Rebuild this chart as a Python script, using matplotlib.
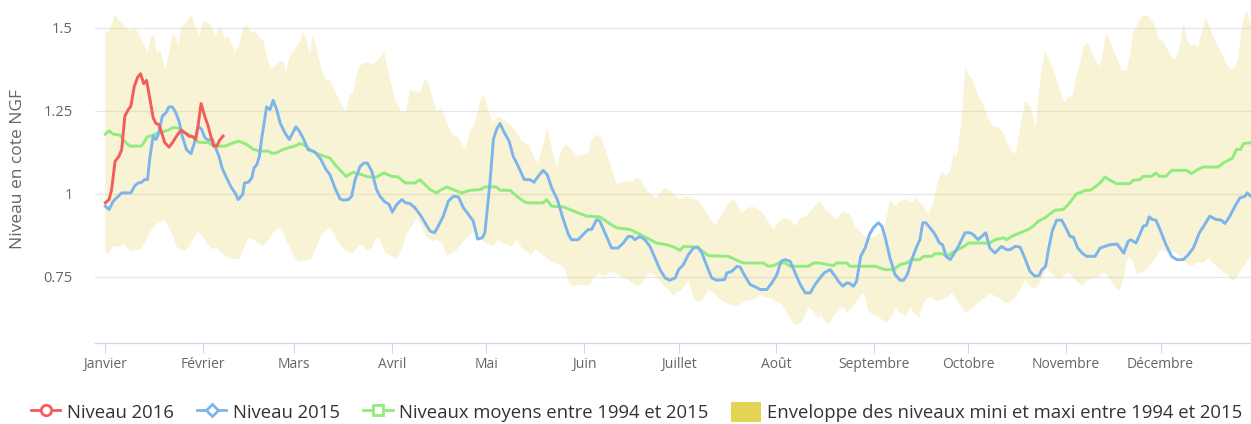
import numpy as np
import matplotlib
matplotlib.use("Agg")
import matplotlib.pyplot as plt
from matplotlib.lines import Line2D
from matplotlib.patches import Patch

plt.rcParams['font.family'] = ['Open Sans', 'DejaVu Sans']

# ---------------- data (day of year 2016, level in m NGF) ----------------
months = ["Janvier", "Février", "Mars", "Avril", "Mai", "Juin", "Juillet",
          "Août", "Septembre", "Octobre", "Novembre", "Décembre"]
yticks = [0.75, 1.0, 1.25, 1.5]
ytick_labels = ["0.75", "1", "1.25", "1.5"]

days_2016 = [0, 1.2, 2, 3.1, 4.3, 5.2, 6.2, 7.3, 8.1, 9.2, 10.3, 11.2, 12.2, 13.1, 14.2, 15.2,
             16.1, 17, 17.9, 18.9, 20.2, 21.3, 22.6, 24, 25.3, 26.6, 27.9, 28.7, 29.5, 30.4,
             31.4, 32.5, 33.5, 34.4, 35.4, 36.3, 37.4]
niveau_2016 = [0.973, 0.983, 1.013, 1.098, 1.113, 1.133, 1.234, 1.254, 1.264, 1.324, 1.352,
               1.362, 1.332, 1.342, 1.284, 1.229, 1.212, 1.209, 1.184, 1.154, 1.141, 1.154,
               1.174, 1.192, 1.184, 1.174, 1.172, 1.164, 1.209, 1.272, 1.239, 1.209, 1.174,
               1.144, 1.144, 1.162, 1.174]

days_2015 = [0, 1.2, 2.5, 4.1, 5.2, 8.1, 9.4, 10.5, 11.5, 12.4, 13.4, 14.2, 15.2, 16.1, 17, 18.1,
             19.2, 20.2, 21.3, 22.3, 23.4, 24.4, 25.8, 27.2, 28.3, 29.5, 30.6, 31.6, 32.7, 34, 35,
             36.1, 37.1, 38.5, 40.1, 41.2, 42.2,
             43.6, 44.2, 45.4, 46.5, 47.2, 48.1, 48.9, 49.6, 50.4, 51.2, 52.3, 53.3, 54.4, 55.5,
             57.0, 58.4, 59.5, 60.5, 61.6, 62.9, 64.4, 66.3, 68.2, 70.1, 71.3, 72.9, 74.5, 75.6,
             77.2, 78.2, 79.3, 80.9, 82.1, 83.2, 84.6, 86.1, 87.2, 88.5,
             90.1, 91.1, 92.5, 94.1, 95.4, 96.7, 98.3, 99.9, 101.5, 103.1, 104.5, 105.7, 107.3,
             108.9, 110.5, 112.1, 113.7, 115.3, 116.8, 118.2, 119.7, 120.5, 122.1, 123.2, 124.2,
             125.3, 126.7, 128.2, 129.5, 131.1, 133.0, 134.8,
             136.1, 137.4, 139.0, 140.3, 141.7, 143.5, 145.4, 147.0, 148.0, 150.1, 151.7, 153.3,
             154.4, 156.0, 157.0, 158.6, 160.7, 162.8, 164.4, 166.0, 167.1, 168.1, 169.7, 171.3,
             172.9, 174.5, 176.1, 177.7, 179.2, 180.9,
             182.0, 183.5, 185.1, 186.7, 188.1, 189.4, 191.0, 192.5, 194.1, 196.6, 197.3, 198.9,
             200.5, 201.5, 203.1, 204.7, 206.3, 207.9, 210.0, 211.6, 213.2, 214.5, 215.8, 217.4,
             219.0, 220.6, 222.2, 223.8, 225.3, 226.9,
             228.2, 230.1, 231.7, 232.7, 234.1, 235.4, 236.4, 237.5, 238.5, 239.8, 241.2, 242.6,
             243.8, 245.4, 246.5, 247.5, 249.1, 250.7, 252.3, 253.4, 254.6, 256.0, 257.6, 258.6,
             259.5, 260.5, 261.8, 263.4, 264.8, 265.8, 266.9, 268.2, 269.2, 270.8, 272.9,
             274.5, 275.5, 277.1, 278.2, 279.5, 280.8, 282.4, 284.5, 286.1, 287.2, 288.8, 290.4,
             291.9, 293.5, 295.1, 296.4, 297.2, 298.5, 299.4, 300.6, 302.0, 303.6, 305.2, 306.2,
             307.3, 308.7, 310.1, 311.5, 314.2, 315.8, 317.3, 318.9,
             321.2, 323.3, 324.7, 325.5, 327.2, 328.4, 329.5, 330.5, 331.4, 332.4, 333.5, 334.8,
             336.7, 338.5, 340.1, 342.2, 343.8, 345.4, 347.3, 348.7, 350.6, 352.6, 354.3, 355.4,
             357.0, 358.6, 360.2, 361.8, 362.5, 363.6]
niveau_2015 = [0.963, 0.953, 0.978, 0.993, 1.003, 1.003, 1.025, 1.033, 1.035, 1.043, 1.043, 1.113,
               1.174, 1.164, 1.184, 1.234, 1.244, 1.262, 1.262, 1.246, 1.219, 1.174, 1.133, 1.121,
               1.154, 1.204, 1.194, 1.169, 1.162, 1.164, 1.139, 1.113, 1.078, 1.048, 1.018, 1.003,
               0.983,
               0.998, 1.033, 1.035, 1.048, 1.078, 1.088, 1.113, 1.164, 1.214, 1.262, 1.254, 1.282,
               1.254, 1.214, 1.184, 1.164, 1.184, 1.202, 1.189, 1.166, 1.133, 1.128, 1.108, 1.073,
               1.058, 1.018, 0.985, 0.981, 0.983, 0.993, 1.043, 1.083, 1.093, 1.093, 1.068, 1.013,
               0.993, 0.978,
               0.968, 0.945, 0.968, 0.983, 0.973, 0.971, 0.958, 0.938, 0.913, 0.888, 0.883, 0.903,
               0.933, 0.978, 0.993, 0.991, 0.958, 0.938, 0.918, 0.864, 0.868, 0.883, 1.033, 1.164,
               1.194, 1.212, 1.184, 1.159, 1.113, 1.083, 1.043, 1.043,
               1.035, 1.053, 1.071, 1.058, 1.018, 0.983, 0.923, 0.878, 0.862, 0.862, 0.878, 0.893,
               0.893, 0.923, 0.918, 0.883, 0.837, 0.837, 0.852, 0.872, 0.872, 0.862, 0.872, 0.862,
               0.842, 0.807, 0.772, 0.747, 0.740, 0.747,
               0.772, 0.787, 0.817, 0.837, 0.840, 0.822, 0.782, 0.747, 0.740, 0.742, 0.762, 0.767,
               0.782, 0.780, 0.752, 0.727, 0.720, 0.712, 0.712, 0.732, 0.757, 0.797, 0.802, 0.797,
               0.762, 0.727, 0.702, 0.702, 0.727, 0.747,
               0.762, 0.772, 0.752, 0.737, 0.722, 0.732, 0.730, 0.722, 0.737, 0.812, 0.837, 0.878,
               0.898, 0.913, 0.903, 0.872, 0.807, 0.757, 0.740, 0.740, 0.757, 0.802, 0.842, 0.862,
               0.913, 0.913, 0.898, 0.878, 0.852, 0.847, 0.812, 0.802, 0.817, 0.842, 0.883,
               0.883, 0.878, 0.862, 0.872, 0.883, 0.837, 0.822, 0.842, 0.832, 0.832, 0.842, 0.840,
               0.807, 0.767, 0.752, 0.754, 0.770, 0.782, 0.832, 0.888, 0.921, 0.921, 0.893, 0.872,
               0.870, 0.837, 0.822, 0.812, 0.812, 0.837, 0.842, 0.847,
               0.849, 0.822, 0.857, 0.862, 0.852, 0.878, 0.903, 0.905, 0.931, 0.923, 0.921, 0.893,
               0.847, 0.812, 0.802, 0.802, 0.817, 0.837, 0.883, 0.903, 0.933, 0.923, 0.921, 0.911,
               0.933, 0.963, 0.988, 0.993, 1.003, 0.993]

days_moy = [0, 1.2, 2.5, 4.7, 6.2, 7.8, 11.5, 13.4, 15.2, 16.8, 20, 21.6, 23.7, 25.3, 27.4, 29.5,
            32.7, 34.8, 38, 40.1, 42.4,
            44.9, 47, 49.1, 51.8, 52.8, 54.4, 56, 58.1, 60.2, 61.8, 63.4, 65.5, 68.2, 71.3, 73.4,
            76.4, 78.7, 81.4, 83.5, 86.1, 88.5,
            90.9, 93, 95.2, 98.3, 99.9, 103.1, 105.2, 106.3, 108.4, 111, 113.1, 115.8, 119, 120.5,
            124.2, 125.3, 128.5, 130.6, 133.2, 134.5,
            139, 140.1, 141.7, 145.4, 148, 150.7, 152.8, 157, 159.7, 162.3, 166.5, 168.7, 171.8,
            175, 178.2, 180.5,
            182.5, 183.5, 187.8, 191.5, 197.8, 200, 202.6, 208.9, 210.5, 212.1, 213.7, 215.8,
            217.4, 223.2, 224.8, 226.6,
            231.1, 232.2, 235.4, 236.4, 244.4, 246, 247.5, 250.2, 252.3, 254.4, 256, 258.6, 259.7,
            262.4, 263.4, 265.5, 267.1, 268.7, 270.3, 272.6,
            274, 280.8, 282.4, 285.1, 286.1, 287.7, 290.4, 293, 294.6, 296.2, 298.3, 300.4, 301.5,
            304.1, 305.7, 307.3, 308.4, 309.9, 311, 312.6, 314.2, 315.8, 317.3, 318.6,
            321, 325.2, 326.3, 328.4, 329.5, 332.1, 333.5, 334.6, 336.7, 338.5, 343.2, 344.8,
            346.4, 348.5, 353.3, 354.9, 356.5, 357.8, 359.1, 360.4, 361.4, 363.6]
niveau_moy = [1.18, 1.19, 1.18, 1.177, 1.157, 1.144, 1.144, 1.172, 1.177, 1.184, 1.192, 1.20,
              1.197, 1.184, 1.174, 1.156, 1.154, 1.144, 1.144, 1.152, 1.159,
              1.149, 1.134, 1.129, 1.129, 1.122, 1.124, 1.132, 1.139, 1.144, 1.152, 1.146, 1.129,
              1.118, 1.108, 1.083, 1.053, 1.065, 1.058, 1.051, 1.051, 1.063,
              1.053, 1.051, 1.033, 1.033, 1.043, 1.013, 1.003, 1.011, 1.021, 1.011, 1.003, 1.011,
              1.013, 1.021, 1.021, 1.011, 1.011, 0.993, 0.975, 0.973,
              0.973, 0.983, 0.963, 0.961, 0.951, 0.941, 0.933, 0.931, 0.913, 0.898, 0.893, 0.883,
              0.868, 0.852, 0.847, 0.840,
              0.830, 0.842, 0.840, 0.814, 0.812, 0.802, 0.792, 0.792, 0.782, 0.784, 0.792, 0.792,
              0.782, 0.782, 0.792, 0.792,
              0.784, 0.792, 0.792, 0.782, 0.782, 0.777, 0.772, 0.772, 0.787, 0.792, 0.802, 0.802,
              0.812, 0.812, 0.820, 0.820, 0.812, 0.822, 0.830, 0.842,
              0.852, 0.852, 0.862, 0.868, 0.862, 0.872, 0.883, 0.893, 0.903, 0.918, 0.928, 0.943,
              0.951, 0.953, 0.968, 0.988, 1.001, 1.005, 1.011, 1.011, 1.021, 1.033, 1.051, 1.043,
              1.031, 1.031, 1.041, 1.043, 1.053, 1.053, 1.063, 1.053, 1.053, 1.071, 1.071, 1.061,
              1.071, 1.081, 1.081, 1.093, 1.101, 1.108, 1.134, 1.134, 1.152, 1.154]

days_max = [0, 0.9, 2, 3.1, 4.1, 5.7, 7.3, 8.4, 9.4, 10.5, 12.1, 13.4, 14.5, 15.6, 16.3, 17.4, 19,
            20, 21.3, 22.3, 23.2, 24.2, 25.3, 26.3, 27.4, 28.5, 29.7, 31.1, 32.7, 34, 35, 36.4,
            38, 39, 40.1, 41.2, 42.4,
            43.8, 44.9, 46.5, 47.5, 49.1, 50.2, 51.8, 52.8, 54.4, 55.7, 56.5, 57.4, 58.4, 59.5,
            60.8, 61.8, 62.7, 63.7, 65, 65.8, 66.9, 68, 69.2, 70.5, 71.3, 72.6, 74.5, 76.4, 77.5,
            78.7, 80.3, 81.4, 82.8, 84, 85.1, 86.1, 87.2, 88.5,
            90.4, 92, 94.1, 95.4, 96.7, 97.8, 99.9, 101.3, 102.3, 103.6, 105.2, 106.8, 108.4,
            110, 112.1, 114.2, 115.8, 117.4, 119, 120, 121.6, 122.9, 124.8, 126.9, 129, 130.6,
            132.2, 134.5,
            136.4, 137.4, 138.8, 140.3, 141.7, 143.3, 144.9, 146.2, 148, 149.6, 151.7, 153.3,
            154.4, 156.2, 157.6, 159.7, 162.3, 163.9, 165.7, 167.1, 168.7, 170.2, 171.8, 173.4,
            174.8, 176.3, 177.7, 179.2, 180.9,
            182.5, 184.6, 186.2, 188.3, 190.4, 192, 193.6, 195.2, 196.8, 198.4, 200, 202.1, 204.2,
            206.3, 208.2, 210, 212.1, 213.7, 215.8, 217.4, 219, 220.6, 222.7, 224.3, 226.6,
            229, 230.6, 232.2, 234.3, 236.4, 238, 239.6, 241.2, 242.8, 244.4, 246, 247.5, 249.1,
            250.7, 252.3, 254.2, 256, 257.6, 259.2, 261.3, 262.9, 263.9, 265.5, 266.9, 268.2,
            269.2, 270.3, 271.3, 272.2,
            272.9, 274, 275.5, 277.1, 278.7, 280.3, 281.9, 283.5, 285.1, 286.7, 287.9, 289, 290.4,
            292, 293.5, 294.6, 295.3, 296.2, 297, 298.3, 299.9, 301.5, 303.1, 304.4, 305.7, 307,
            308.4, 309.4, 310.5, 311.8, 313.1, 314.7, 315.8, 316.8, 317.6, 318.6,
            320.2, 321.5, 322.6, 324.2, 325.2, 326.3, 327.9, 329.5, 331.1, 332.7, 334.6, 335.8,
            337.4, 339, 340.1, 341.1, 342.4, 343.5, 344.8, 345.9, 346.9, 348, 349.4, 350.6, 352.2,
            353.8, 355.4, 357, 358.6, 359.6, 360.7, 361.8, 362.5, 363.7]
niveau_max = [1.49, 1.485, 1.51, 1.54, 1.525, 1.51, 1.495, 1.493, 1.50, 1.485, 1.455, 1.425, 1.47,
              1.48, 1.425, 1.435, 1.375, 1.415, 1.48, 1.475, 1.445, 1.505, 1.51, 1.525, 1.54,
              1.505, 1.475, 1.52, 1.515, 1.50, 1.475, 1.505, 1.47, 1.473, 1.455, 1.425, 1.45,
              1.50, 1.51, 1.485, 1.49, 1.47, 1.46, 1.395, 1.377, 1.39, 1.40, 1.40, 1.37, 1.41,
              1.425, 1.445, 1.457, 1.49, 1.47, 1.42, 1.48, 1.445, 1.40, 1.36, 1.34, 1.345, 1.315,
              1.28, 1.245, 1.295, 1.305, 1.38, 1.39, 1.395, 1.395, 1.39, 1.40, 1.41, 1.43,
              1.345, 1.285, 1.245, 1.245, 1.31, 1.31, 1.305, 1.343, 1.343, 1.30, 1.245, 1.26,
              1.215, 1.18, 1.17, 1.135, 1.185, 1.22, 1.28, 1.30, 1.255, 1.215, 1.233, 1.22, 1.205,
              1.185, 1.16, 1.145,
              1.105, 1.095, 1.14, 1.20, 1.14, 1.08, 1.135, 1.15, 1.135, 1.115, 1.12, 1.125, 1.165,
              1.18, 1.165, 1.11, 1.03, 1.035, 1.04, 1.035, 1.05, 1.04, 1.01, 1.0, 0.985, 1.005,
              1.02, 1.01, 0.995,
              0.985, 0.993, 0.985, 0.98, 0.95, 0.925, 0.905, 0.93, 0.955, 0.98, 0.98, 0.943, 0.96,
              0.96, 0.948, 0.923, 0.893, 0.915, 0.928, 0.923, 0.903, 0.928, 0.935, 0.953, 0.978,
              0.948, 0.938, 0.923, 0.948, 0.938, 0.903, 0.888, 0.872, 0.868, 0.872, 0.883, 0.908,
              0.983, 0.963, 0.978, 0.983, 0.973, 0.988, 0.968, 0.938, 0.973, 1.023, 1.068, 1.053,
              1.068, 1.118, 1.113, 1.184, 1.264,
              1.38, 1.36, 1.34, 1.295, 1.27, 1.225, 1.205, 1.2, 1.185, 1.145, 1.125, 1.123, 1.2,
              1.28, 1.265, 1.23, 1.2, 1.285, 1.36, 1.43, 1.40, 1.36, 1.31, 1.275, 1.29, 1.295,
              1.36, 1.39, 1.445, 1.455, 1.43, 1.395, 1.385, 1.43, 1.48, 1.47,
              1.43, 1.40, 1.372, 1.372, 1.415, 1.485, 1.515, 1.54, 1.535, 1.515, 1.465, 1.46,
              1.43, 1.405, 1.41, 1.445, 1.515, 1.46, 1.445, 1.45, 1.44, 1.485, 1.53, 1.50, 1.465,
              1.435, 1.40, 1.376, 1.38, 1.41, 1.495, 1.545, 1.55, 1.505]

days_min = [0, 1.2, 2.2, 4.7, 6, 7.3, 8.4, 9.9, 11.5, 13.1, 14.7, 16.3, 17.9, 18.7, 20, 21.6,
            22.6, 23.7, 25.3, 26.6, 27.9, 29.5, 30.8, 32.2, 33.8, 35.3, 36.9, 38.5, 40.1, 42.4,
            42.8, 44.3, 45.4, 47, 48.6, 50.2, 51.8, 53.3, 54.9, 56.5, 58.1, 59.7, 61.3, 62.3,
            63.9, 65.5, 67.1, 68.7, 70.1, 71.3, 72.9, 74.5, 76.6, 78.7, 80.3, 81.4, 83, 84.6,
            85.6, 86.7, 87.7,
            88.8, 90.9, 92.5, 94.1, 95.7, 97.3, 98.9, 100.4, 102, 103.6, 105.2, 106.8, 108.4,
            110, 111.6, 113.7, 115.3, 117.2, 118.4, 120, 121.6, 123.2, 124.6, 126, 127.4, 129,
            130.6, 132.2, 134.5,
            134.8, 136.4, 138, 140.1, 142.2, 144.3, 145.9, 147.5, 149.1, 150.7, 152.3, 153.8,
            155.4, 157, 158.6, 160.2, 162.3, 163.9, 166, 167.8, 169.2, 170.8, 172.4, 173.7,
            175.5, 177.1, 178.7, 180.5,
            180.9, 182.5, 183.9, 185.1, 186.7, 188.3, 189.9, 191.5, 193.1, 194.7, 196.2, 198.4,
            200, 201.5, 203.1, 205.2, 206.8, 208.2, 209.5, 211.1, 212.6, 214.5, 215.8, 217.4,
            218.8, 220, 221.6, 223.2, 224.8, 226.6,
            226.9, 228.5, 229.9, 231.1, 232.7, 234.1, 235.4, 236.6, 238, 239.6, 240.9, 242.2,
            243.6, 245.1, 246.5, 248.1, 249.7, 251, 252.3, 253.9, 255.7, 257.1, 258.4, 259.7,
            261, 262.4, 263.9, 265.5, 267.1, 268.7, 270.3, 271.9,
            272.9, 275, 277.1, 279.2, 280.8, 282.4, 284, 285.6, 287.2, 288.8, 290.4, 292, 293,
            294.6, 296, 297.2, 298.8, 300.2, 301.5, 302.7, 304.1, 305.7, 307.3, 308.9, 310.5,
            311.5, 313.1, 314.7, 316.3, 317.9,
            318.9, 320.5, 321.9, 323.1, 324.2, 325, 326.3, 327.6, 329, 330.5, 332.1, 333.5,
            334.6, 335.8, 337.1, 338.5, 340.1, 341.6, 343.2, 344.8, 346.4, 348.5, 350.1, 351.7,
            353.3, 354.9, 356.5, 357.8, 359.1, 360.7, 362.1, 363.7]
niveau_min = [0.822, 0.822, 0.842, 0.842, 0.85, 0.832, 0.827, 0.832, 0.834, 0.864, 0.893, 0.911,
              0.915, 0.923, 0.903, 0.872, 0.842, 0.832, 0.827, 0.842, 0.864, 0.888, 0.871, 0.852,
              0.834, 0.837, 0.822, 0.81, 0.804, 0.804,
              0.812, 0.842, 0.868, 0.862, 0.852, 0.842, 0.862, 0.883, 0.898, 0.883, 0.847, 0.817,
              0.792, 0.8, 0.8, 0.807, 0.842, 0.878, 0.888, 0.898, 0.872, 0.847, 0.827, 0.822,
              0.842, 0.847, 0.83, 0.837, 0.862, 0.872, 0.847,
              0.822, 0.812, 0.804, 0.832, 0.878, 0.903, 0.928, 0.903, 0.871, 0.858, 0.862, 0.852,
              0.814, 0.822, 0.832, 0.858, 0.872, 0.893, 0.872, 0.858, 0.847, 0.844, 0.862, 0.852,
              0.847, 0.842, 0.862, 0.837, 0.822,
              0.812, 0.832, 0.822, 0.807, 0.792, 0.787, 0.772, 0.727, 0.722, 0.727, 0.724, 0.727,
              0.752, 0.76, 0.752, 0.767, 0.76, 0.75, 0.742, 0.727, 0.722, 0.737, 0.76, 0.762,
              0.742, 0.727, 0.712, 0.692,
              0.702, 0.707, 0.722, 0.742, 0.687, 0.674, 0.682, 0.712, 0.702, 0.687, 0.677, 0.664,
              0.662, 0.667, 0.677, 0.68, 0.687, 0.697, 0.687, 0.687, 0.677, 0.667, 0.652, 0.627,
              0.607, 0.607, 0.622, 0.657, 0.647, 0.622,
              0.637, 0.617, 0.607, 0.632, 0.647, 0.662, 0.642, 0.652, 0.67, 0.692, 0.702, 0.647,
              0.637, 0.632, 0.622, 0.612, 0.632, 0.657, 0.642, 0.632, 0.657, 0.637, 0.627, 0.672,
              0.687, 0.687, 0.677, 0.682, 0.687, 0.702, 0.682, 0.657,
              0.642, 0.652, 0.672, 0.687, 0.702, 0.692, 0.687, 0.672, 0.674, 0.687, 0.712, 0.742,
              0.727, 0.714, 0.722, 0.742, 0.777, 0.762, 0.752, 0.742, 0.752, 0.762, 0.747, 0.732,
              0.724, 0.737, 0.744, 0.747, 0.762, 0.757,
              0.742, 0.72, 0.707, 0.742, 0.792, 0.812, 0.792, 0.757, 0.764, 0.772, 0.792, 0.807,
              0.827, 0.834, 0.822, 0.827, 0.822, 0.807, 0.792, 0.782, 0.792, 0.792, 0.807, 0.792,
              0.777, 0.764, 0.757, 0.737, 0.747, 0.772, 0.792, 0.812]

# ---------------- styling ----------------
C_2016 = "#f45b5b"
C_2015 = "#7cb5ec"
C_MOY = "#90ed7d"
C_ENV = "#e4d354"
GRID = "#e6e6e6"
AXIS = "#ccd6eb"
LABEL = "#666666"

W, H = 1251, 424
fig = plt.figure(figsize=(W / 100, H / 100), dpi=100)
ax = fig.add_axes([95 / W, 81 / H, 1156 / W, 343 / H])

# envelope polygon
env_x = np.concatenate([np.array(days_max), np.array(days_min)[::-1]])
env_y = np.concatenate([np.array(niveau_max), np.array(niveau_min)[::-1]])
ax.fill(env_x, env_y, color=C_ENV, alpha=0.25, lw=0, zorder=1)

lw = 2.1
ax.plot(days_moy, niveau_moy, color=C_MOY, lw=lw, zorder=3, solid_joinstyle='round')
ax.plot(days_2015, niveau_2015, color=C_2015, lw=lw, zorder=4, solid_joinstyle='round')
ax.plot(days_2016, niveau_2016, color=C_2016, lw=lw, zorder=5, solid_joinstyle='round')

ax.set_xlim(-3.27, 363.7)
ax.set_ylim(0.551, 1.584)

month_days = [(np.datetime64('2016-%02d-01' % (m + 1)) - np.datetime64('2016-01-01')).astype(int)
              for m in range(12)]
ax.set_xticks(month_days)
ax.set_xticklabels(months)
ax.tick_params(axis='x', length=7.2, width=0.75, color=AXIS, labelcolor=LABEL,
               labelsize=10, pad=3)

ax.set_yticks(yticks)
ax.set_yticklabels(ytick_labels)
ax.tick_params(axis='y', length=0, labelcolor=LABEL, labelsize=10.5, pad=16)

ax.grid(axis='y', color=GRID, lw=0.9, zorder=0)
ax.set_axisbelow(True)
for s in ['top', 'right', 'left']:
    ax.spines[s].set_visible(False)
ax.spines['bottom'].set_color(AXIS)
ax.spines['bottom'].set_linewidth(0.9)

fig.text(18 / W, 1 - 169 / H, "Niveau en cote NGF", rotation=90, ha='center', va='center',
         color=LABEL, fontsize=12.5)

handles = [
    Line2D([0], [0], color=C_2016, lw=2, marker='o', ms=7.5, mfc='white', mec=C_2016, mew=2),
    Line2D([0], [0], color=C_2015, lw=2, marker='D', ms=6.5, mfc='white', mec=C_2015, mew=2),
    Line2D([0], [0], color=C_MOY, lw=2, marker='s', ms=7, mfc='white', mec=C_MOY, mew=2),
    Patch(facecolor=C_ENV, edgecolor='none'),
]
labels = ["Niveau 2016", "Niveau 2015", "Niveaux moyens entre 1994 et 2015",
          "Enveloppe des niveaux mini et maxi entre 1994 et 2015"]
leg = fig.legend(handles, labels, loc='center', bbox_to_anchor=(0.509, 1 - 412 / H), ncol=4,
                 frameon=False, fontsize=13.3, handlelength=1.6, handleheight=1.3,
                 handletextpad=0.35, columnspacing=1.25, labelcolor='#333333')

fig.savefig("out.png", dpi=100)
